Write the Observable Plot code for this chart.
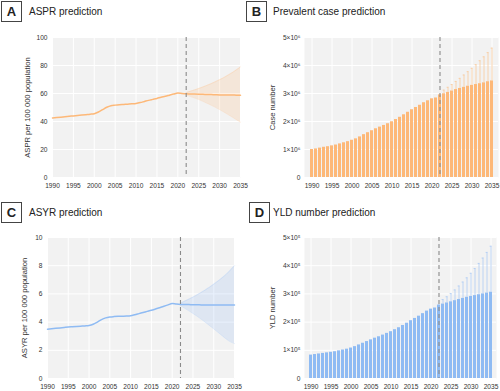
<!DOCTYPE html>
<html>
<head>
<meta charset="utf-8">
<script src="https://cdn.jsdelivr.net/npm/d3@7"></script>
<script src="https://cdn.jsdelivr.net/npm/@observablehq/plot@0.6"></script>
<style>
  html, body { margin: 0; padding: 0; background: #fff; }
  body { width: 500px; height: 391px; position: relative; overflow: hidden; font-family: "Liberation Sans", Arial, sans-serif; color: #222; }
  .box { position: absolute; width: 19px; height: 19px; border: 1px solid #444; font-weight: bold; font-size: 13px; line-height: 19px; text-align: center; }
  .ttl { position: absolute; font-size: 10px; line-height: 21px; white-space: nowrap; }
  .panel { position: absolute; }
</style>
</head>
<body>
<div class="box" style="left:1px;top:1px;">A</div><div class="ttl" style="left:29px;top:1px;">ASPR prediction</div>
<div class="box" style="left:246px;top:1px;">B</div><div class="ttl" style="left:273px;top:1px;">Prevalent case prediction</div>
<div class="box" style="left:1px;top:202px;">C</div><div class="ttl" style="left:29px;top:202px;">ASYR prediction</div>
<div class="box" style="left:249px;top:202px;">D</div><div class="ttl" style="left:273px;top:202px;">YLD number prediction</div>
<div class="panel" id="pA" style="left:0px;top:24px;"></div>
<div class="panel" id="pB" style="left:250px;top:24px;"></div>
<div class="panel" id="pC" style="left:0px;top:224px;"></div>
<div class="panel" id="pD" style="left:250px;top:224px;"></div>
<script>
// ---- categories / ticks ----
const years = d3.range(1990, 2036);            // 1990..2035
const projYears = d3.range(2022, 2036);        // 2022..2035
const forecastStart = [2022];
const xTicks = [1990, 1995, 2000, 2005, 2010, 2015, 2020, 2025, 2030, 2035];
const asprTicks = [0, 20, 40, 60, 80, 100];
const asyrTicks = [0, 2, 4, 6, 8, 10];
const prevTicks = [0, 1, 2, 3, 4, 5];   // ×10^6
const yldTicks = [0, 1, 2, 3, 4, 5];    // ×10^5

// ---- A: ASPR per 100 000 ----
const asprValues = [42.5,42.8,43.1,43.4,43.7,44.0,44.3,44.6,44.9,45.2,
  45.6,46.8,48.5,50.2,51.3,51.7,52.0,52.2,52.4,52.6,
  52.9,53.5,54.3,55.1,55.8,56.5,57.3,58.0,58.8,59.6,
  60.3,60.0,59.8,59.7,59.6,59.5,59.4,59.3,59.2,59.1,
  59.0,59.0,58.9,58.9,58.8,58.8];
const asprHi = [60.6,61.6,62.5,63.5,64.6,65.8,67.0,68.4,69.8,71.3,73.0,74.8,76.8,79.0];
const asprLo = [59.0,57.8,56.8,55.7,54.4,53.0,51.6,50.1,48.5,46.8,45.0,43.2,41.3,39.5];

// ---- C: ASYR per 100 000 ----
const asyrValues = [3.50,3.53,3.56,3.59,3.62,3.65,3.67,3.69,3.71,3.73,
  3.76,3.85,4.00,4.18,4.30,4.36,4.39,4.41,4.42,4.43,
  4.45,4.52,4.60,4.68,4.76,4.84,4.93,5.02,5.12,5.22,
  5.32,5.28,5.25,5.24,5.24,5.23,5.23,5.22,5.22,5.22,
  5.21,5.21,5.21,5.21,5.22,5.22];
const asyrHi = [5.33,5.48,5.62,5.77,5.93,6.10,6.28,6.47,6.68,6.90,7.13,7.38,7.68,8.00];
const asyrLo = [5.17,4.98,4.80,4.61,4.41,4.20,3.98,3.75,3.52,3.28,3.04,2.80,2.60,2.48];

// ---- B: prevalent cases (×10^6) ----
const prevValues = [1.00,1.02,1.05,1.08,1.10,1.13,1.16,1.20,1.24,1.28,
  1.33,1.38,1.45,1.53,1.60,1.67,1.74,1.80,1.86,1.92,
  1.99,2.07,2.15,2.24,2.33,2.42,2.50,2.58,2.67,2.74,
  2.81,2.84,2.95,2.99,3.04,3.09,3.14,3.18,3.22,3.26,
  3.29,3.32,3.35,3.38,3.42,3.45];
const prevUpper = [2.97,3.12,3.22,3.32,3.43,3.54,3.66,3.78,3.90,4.03,4.17,4.31,4.46,4.62];

// ---- D: YLD number (×10^5) ----
const yldValues = [0.83,0.85,0.87,0.89,0.91,0.93,0.95,0.98,1.01,1.04,
  1.08,1.13,1.19,1.25,1.31,1.37,1.43,1.48,1.54,1.60,
  1.66,1.73,1.80,1.88,1.96,2.05,2.13,2.21,2.30,2.39,
  2.46,2.50,2.60,2.64,2.68,2.72,2.76,2.80,2.84,2.88,
  2.91,2.94,2.97,3.00,3.03,3.06];
const yldUpper = [2.62,2.80,2.90,3.01,3.14,3.28,3.42,3.57,3.73,3.90,4.08,4.27,4.47,4.69];

// ---- colours ----
const orange = "#fdb878", orangeErr = "#f9ca9c";
const blue = "#8fbbf3", blueErr = "#aecbf4";

const baseStyle = { fontFamily: "'Liberation Sans', Arial, sans-serif", fontSize: "6.6px", color: "#333", background: "transparent", overflow: "visible" };

function linePanel({values, hi, lo, ticks, yLabel, color, width, height, mt, mb, ml, mr, labelDx}) {
  const series = years.map((year, i) => ({year, value: values[i]}));
  const band = projYears.map((year, i) => ({year, hi: hi[i], lo: lo[i]}));
  const curve = "monotone-x";
  return Plot.plot({
    width, height, marginTop: mt, marginBottom: mb, marginLeft: ml, marginRight: mr,
    style: baseStyle,
    x: {domain: [years[0], years[years.length - 1]]},
    y: {domain: [ticks[0], ticks[ticks.length - 1]]},
    marks: [
      Plot.frame({fill: "#f2f2f2", stroke: null}),
      Plot.gridX(xTicks, {stroke: "#fff", strokeOpacity: 1, strokeWidth: 1}),
      Plot.gridY(ticks, {stroke: "#fff", strokeOpacity: 1, strokeWidth: 1}),
      Plot.areaY(band, {x: "year", y1: "lo", y2: "hi", fill: color, fillOpacity: 0.2, curve}),
      Plot.lineY(band, {x: "year", y: "hi", stroke: color, strokeOpacity: 0.35, strokeWidth: 0.6, curve}),
      Plot.lineY(band, {x: "year", y: "lo", stroke: color, strokeOpacity: 0.35, strokeWidth: 0.6, curve}),
      Plot.lineY(series, {x: "year", y: "value", stroke: color, strokeWidth: 1.5, curve}),
      Plot.ruleX(forecastStart, {stroke: "#8a8a8a", strokeWidth: 1.1, strokeDasharray: "4,3"}),
      Plot.axisX(xTicks, {tickSize: 0, tickPadding: 6, label: null, tickFormat: d => String(d)}),
      Plot.axisY(ticks, {tickSize: 0, tickPadding: 5, label: null}),
      Plot.text([yLabel], {text: d => d, frameAnchor: "left", textAnchor: "middle", rotate: -90, dx: labelDx, fontSize: 7.6, fill: "#333"})
    ]
  });
}

function barPanel({values, upper, ticks, power, yLabel, color, errColor, width, height, mt, mb, ml, mr, labelDx}) {
  const bars = years.map((year, i) => ({year, value: values[i]}));
  const errs = projYears.map((year, i) => ({year, value: values[years.indexOf(year)], upper: upper[i]}));
  return Plot.plot({
    width, height, marginTop: mt, marginBottom: mb, marginLeft: ml, marginRight: mr,
    style: baseStyle,
    x: {type: "band", domain: years, paddingInner: 0.3, paddingOuter: 0.1},
    y: {domain: [ticks[0], ticks[ticks.length - 1]]},
    marks: [
      Plot.frame({fill: "#f2f2f2", stroke: null}),
      Plot.gridX(xTicks, {stroke: "#fff", strokeOpacity: 1, strokeWidth: 1}),
      Plot.gridY(ticks, {stroke: "#fff", strokeOpacity: 1, strokeWidth: 1}),
      Plot.barY(bars, {x: "year", y: "value", fill: color}),
      Plot.ruleX(errs, {x: "year", y1: "value", y2: "upper", stroke: errColor, strokeWidth: 0.8}),
      Plot.tickY(errs, {x: "year", y: "upper", stroke: errColor, strokeWidth: 0.8, insetLeft: 0.6, insetRight: 0.6}),
      Plot.ruleX(forecastStart, {stroke: "#8a8a8a", strokeWidth: 1.1, strokeDasharray: "4,3"}),
      Plot.axisX(xTicks, {tickSize: 0, tickPadding: 6, label: null, tickFormat: d => String(d)}),
      Plot.axisY(ticks, {tickSize: 0, tickPadding: 4, label: null, tickFormat: d => d === 0 ? "0" : `${d}×10${power}`}),
      Plot.text([yLabel], {text: d => d, frameAnchor: "left", textAnchor: "middle", rotate: -90, dx: labelDx, fontSize: 7.6, fill: "#333"})
    ]
  });
}

document.getElementById("pA").append(linePanel({
  values: asprValues, hi: asprHi, lo: asprLo, ticks: asprTicks,
  yLabel: "ASPR per 100 000 population", color: orange,
  width: 250, height: 176, mt: 13, mb: 23, ml: 52, mr: 10, labelDx: -25
}));
document.getElementById("pB").append(barPanel({
  values: prevValues, upper: prevUpper, ticks: prevTicks, power: "⁶",
  yLabel: "Case number", color: orange, errColor: orangeErr,
  width: 250, height: 176, mt: 13, mb: 23, ml: 54, mr: 2, labelDx: -32
}));
document.getElementById("pC").append(linePanel({
  values: asyrValues, hi: asyrHi, lo: asyrLo, ticks: asyrTicks,
  yLabel: "ASYR per 100 000 population", color: blue,
  width: 250, height: 168, mt: 13, mb: 14, ml: 47, mr: 16, labelDx: -23
}));
document.getElementById("pD").append(barPanel({
  values: yldValues, upper: yldUpper, ticks: yldTicks, power: "⁵",
  yLabel: "YLD number", color: blue, errColor: blueErr,
  width: 250, height: 168, mt: 13, mb: 14, ml: 54, mr: 4, labelDx: -32
}));
</script>
</body>
</html>
